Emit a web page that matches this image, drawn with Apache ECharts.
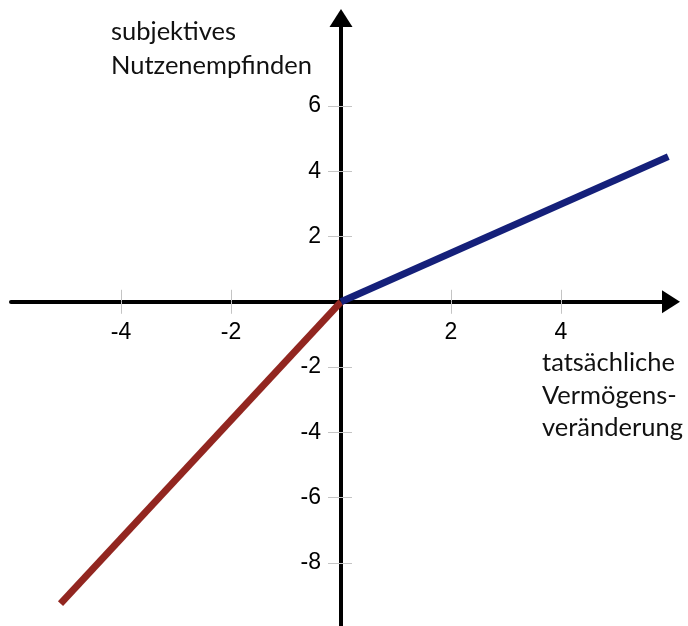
<!DOCTYPE html>
<html>
<head>
<meta charset="utf-8">
<script src="https://cdn.jsdelivr.net/npm/echarts@6/dist/echarts.min.js"></script>
<style>
html,body{margin:0;padding:0;background:#fff;}
#chart{width:688px;height:626px;}
</style>
</head>
<body>
<div id="chart"></div>
<script>
// Data
const lossX = [-5.1, 0];
const lossY = [-9.25, 0];
const gainX = [0, 5.95];
const gainY = [0, 4.45];
const xTicks = [-4, -2, 2, 4];
const yTicks = [-8, -6, -4, -2, 2, 4, 6];
const yTitle = ['subjektives', 'Nutzenempfinden'];
const xTitle = ['tatsächliche', 'Vermögens-', 'veränderung'];

const lossData = lossX.map((x, i) => [x, lossY[i]]);
const gainData = gainX.map((x, i) => [x, gainY[i]]);

const chart = echarts.init(document.getElementById('chart'));
const X_MIN = -6, X_MAX = 6, Y_MIN = -10, Y_MAX = 8.7;
const tickStyle = {color: '#c4c4c4', width: 1};
const labelFont = {color: '#000', fontSize: 23, fontFamily: 'Liberation Sans, Arial, sans-serif'};

function buildOption(xOffset, yOffset) {
  return {
    animation: false,
    backgroundColor: '#fff',
    grid: {left: 11, right: 17, top: 18, bottom: -2, outerBoundsMode: 'none', containLabel: false},
    xAxis: [
      {
        type: 'value', min: X_MIN, max: X_MAX,
        axisLine: {show: true, onZero: true, onZeroAxisIndex: 0,
          lineStyle: {color: '#000', width: 4},
          symbol: ['none', 'triangle'], symbolSize: [23, 18]},
        axisTick: {show: true, customValues: xTicks, length: 12, lineStyle: tickStyle},
        axisLabel: {show: false},
        splitLine: {show: false}
      },
      {
        type: 'value', min: X_MIN, max: X_MAX, position: 'bottom', offset: xOffset,
        axisLine: {show: false, onZero: false},
        axisTick: {show: true, inside: true, customValues: xTicks, length: 12, lineStyle: tickStyle},
        axisLabel: Object.assign({show: true, customValues: xTicks, margin: 19}, labelFont),
        splitLine: {show: false}
      }
    ],
    yAxis: [
      {
        type: 'value', min: Y_MIN, max: Y_MAX,
        axisLine: {show: true, onZero: true, onZeroAxisIndex: 0,
          lineStyle: {color: '#000', width: 4},
          symbol: ['none', 'triangle'], symbolSize: [23, 18]},
        axisTick: {show: true, customValues: yTicks, length: 13, lineStyle: tickStyle},
        axisLabel: {show: false},
        splitLine: {show: false}
      },
      {
        type: 'value', min: Y_MIN, max: Y_MAX, position: 'left', offset: yOffset,
        axisLine: {show: false, onZero: false},
        axisTick: {show: true, inside: true, customValues: yTicks, length: 11, lineStyle: tickStyle},
        axisLabel: Object.assign({show: true, customValues: yTicks, margin: 20}, labelFont),
        splitLine: {show: false}
      }
    ],
    graphic: [
      {
        type: 'text', left: 111, top: 15,
        style: {text: yTitle.join('\n'), fill: '#111', fontSize: 25.5, lineHeight: 34,
          fontFamily: 'Lato, sans-serif'}
      },
      {
        type: 'text', left: 542, top: 347,
        style: {text: xTitle.join('\n'), fill: '#111', fontSize: 25.5, lineHeight: 32.5,
          fontFamily: 'Lato, sans-serif'}
      }
    ],
    series: [
      {
        type: 'line', data: lossData, xAxisIndex: 0, yAxisIndex: 0,
        showSymbol: false, symbol: 'none', silent: true,
        lineStyle: {color: '#922620', width: 7, cap: 'butt'}, z: 3
      },
      {
        type: 'line', data: gainData, xAxisIndex: 0, yAxisIndex: 0,
        showSymbol: false, symbol: 'none', silent: true,
        lineStyle: {color: '#15207a', width: 7, cap: 'butt'}, z: 4
      }
    ]
  };
}

chart.setOption(buildOption(0, 0));
// Move the label axes onto the zero lines, using the library's own scale.
const zero = chart.convertToPixel({xAxisIndex: 0, yAxisIndex: 0}, [0, 0]);
const rect = chart.getModel().getComponent('grid', 0).coordinateSystem.getRect();
const xOff = -((rect.y + rect.height) - zero[1]);
const yOff = -(zero[0] - rect.x);
chart.setOption(buildOption(xOff, yOff));
</script>
</body>
</html>
